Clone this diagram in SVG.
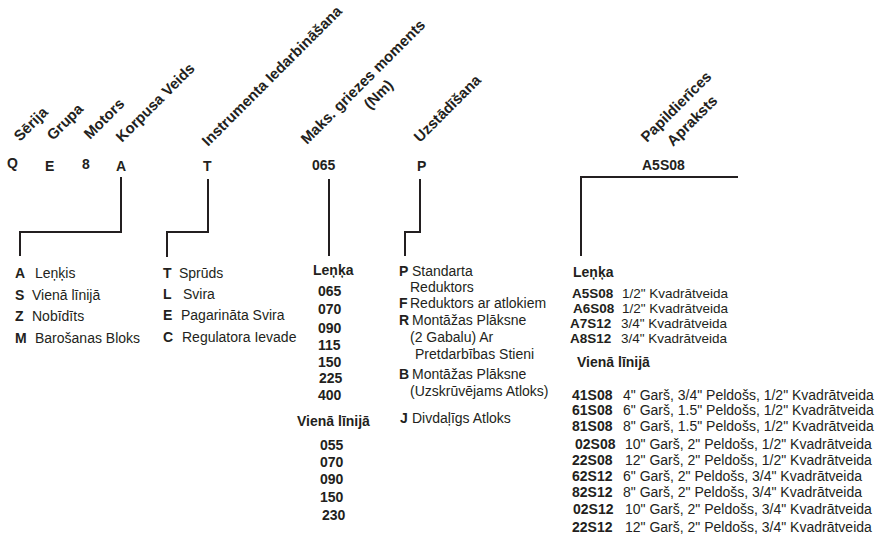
<svg xmlns="http://www.w3.org/2000/svg" width="888" height="534" viewBox="0 0 888 534">
<style>
text{fill:#231f20;font-family:"Liberation Sans",Arial,sans-serif;font-size:14px}
.b{font-weight:bold}
.h{font-weight:bold;font-size:15px}
.s{font-size:13.5px}
.c{fill:none;stroke:#231f20;stroke-width:2}
</style>
<rect width="888" height="534" fill="#fff"/>
<g id="headers">
<text class="h" transform="translate(20,142) rotate(-45)">Sērija</text>
<text class="h" transform="translate(53,141) rotate(-45)">Grupa</text>
<text class="h" transform="translate(90,140) rotate(-45)">Motors</text>
<text class="h" transform="translate(122,143) rotate(-45)">Korpusa Veids</text>
<text class="h" transform="translate(208,147) rotate(-45)">Instrumenta Iedarbināšana</text>
<text class="h" transform="translate(307,145) rotate(-45)">Maks. griezes moments</text>
<text class="h" transform="translate(370,110) rotate(-45)">(Nm)</text>
<text class="h" transform="translate(420,143) rotate(-45)">Uzstādīšana</text>
<text class="h" transform="translate(647,143) rotate(-45)">Papildierīces</text>
<text class="h" transform="translate(673,147) rotate(-45)">Apraksts</text>
</g>
<g id="codes">
<text class="b" x="7" y="168">Q</text>
<text class="b" x="45" y="171">E</text>
<text class="b" x="82" y="169">8</text>
<text class="b" x="116" y="171">A</text>
<text class="b" x="203" y="171">T</text>
<text class="b" x="312" y="170">065</text>
<text class="b" x="417" y="171">P</text>
<text class="b" x="642" y="170">A5S08</text>
</g>
<g id="connectors">
<polyline class="c" points="121,177 121,232 20,232 20,256"/>
<polyline class="c" points="208,179 208,232 167,232 167,257"/>
<polyline class="c" points="329,179 329,256"/>
<polyline class="c" points="420,179 420,232 405,232 405,256"/>
<polyline class="c" points="738,177 581,177 581,256"/>
</g>
<g id="korpusa-list">
<text class="b" x="15" y="278">A</text><text x="35" y="278">Leņķis</text>
<text class="b" x="15" y="300">S</text><text x="32" y="300">Vienā līnijā</text>
<text class="b" x="15" y="321">Z</text><text x="32" y="321">Nobīdīts</text>
<text class="b" x="15" y="343">M</text><text x="35" y="343">Barošanas Bloks</text>
</g>
<g id="instruments-list">
<text class="b" x="163" y="278">T</text><text x="179" y="278">Sprūds</text>
<text class="b" x="163" y="299">L</text><text x="183" y="299">Svira</text>
<text class="b" x="163" y="320">E</text><text x="181" y="320">Pagarināta Svira</text>
<text class="b" x="163" y="342">C</text><text x="182" y="342">Regulatora Ievade</text>
</g>
<g id="moments-list">
<text class="b" x="313" y="275">Leņķa</text>
<text class="b" x="318" y="296">065</text>
<text class="b" x="318" y="314">070</text>
<text class="b" x="318" y="333">090</text>
<text class="b" x="318" y="350">115</text>
<text class="b" x="318" y="367">150</text>
<text class="b" x="319" y="383">225</text>
<text class="b" x="318" y="400">400</text>
<text class="b" x="297" y="426">Vienā līnijā</text>
<text class="b" x="320" y="450">055</text>
<text class="b" x="320" y="467">070</text>
<text class="b" x="320" y="484">090</text>
<text class="b" x="320" y="502">150</text>
<text class="b" x="322" y="520">230</text>
</g>
<g id="uzstadisana-list">
<text class="b" x="399" y="276">P</text><text x="412" y="276">Standarta</text>
<text x="410" y="292">Reduktors</text>
<text class="b" x="399" y="308">F</text><text x="410" y="308">Reduktors ar atlokiem</text>
<text class="b" x="399" y="325">R</text><text x="412" y="325">Montāžas Plāksne</text>
<text x="410" y="342">(2 Gabalu) Ar</text>
<text x="415" y="359">Pretdarbības Stieni</text>
<text class="b" x="399" y="379">B</text><text x="412" y="379">Montāžas Plāksne</text>
<text x="410" y="396">(Uzskrūvējams Atloks)</text>
<text class="b" x="400" y="423">J</text><text x="412" y="423">Divdaļīgs Atloks</text>
</g>
<g id="papildierices-list">
<text class="b" x="573" y="277">Leņķa</text>
<text class="b s" x="572" y="298">A5S08</text><text class="s" x="622" y="298">1/2" Kvadrātveida</text>
<text class="b s" x="573" y="313">A6S08</text><text class="s" x="622" y="313">1/2" Kvadrātveida</text>
<text class="b s" x="570" y="328">A7S12</text><text class="s" x="621" y="328">3/4" Kvadrātveida</text>
<text class="b s" x="570" y="343">A8S12</text><text class="s" x="621" y="343">3/4" Kvadrātveida</text>
<text class="b" x="577" y="367">Vienā līnijā</text>
<text class="b" x="572" y="400">41S08</text><text x="623" y="400">4" Garš, 3/4" Peldošs, 1/2" Kvadrātveida</text>
<text class="b" x="572" y="415">61S08</text><text x="623" y="415">6" Garš, 1.5" Peldošs, 1/2" Kvadrātveida</text>
<text class="b" x="572" y="431">81S08</text><text x="623" y="431">8" Garš, 1.5" Peldošs, 1/2" Kvadrātveida</text>
<text class="b" x="575" y="449">02S08</text><text x="625" y="449">10" Garš, 2" Peldošs, 1/2" Kvadrātveida</text>
<text class="b" x="572" y="465">22S08</text><text x="625" y="465">12" Garš, 2" Peldošs, 1/2" Kvadrātveida</text>
<text class="b" x="572" y="481">62S12</text><text x="623" y="481">6" Garš, 2" Peldošs, 3/4" Kvadrātveida</text>
<text class="b" x="572" y="497">82S12</text><text x="623" y="497">8" Garš, 2" Peldošs, 3/4" Kvadrātveida</text>
<text class="b" x="573" y="514">02S12</text><text x="625" y="514">10" Garš, 2" Peldošs, 3/4" Kvadrātveida</text>
<text class="b" x="572" y="532">22S12</text><text x="625" y="532">12" Garš, 2" Peldošs, 3/4" Kvadrātveida</text>
</g>
</svg>
